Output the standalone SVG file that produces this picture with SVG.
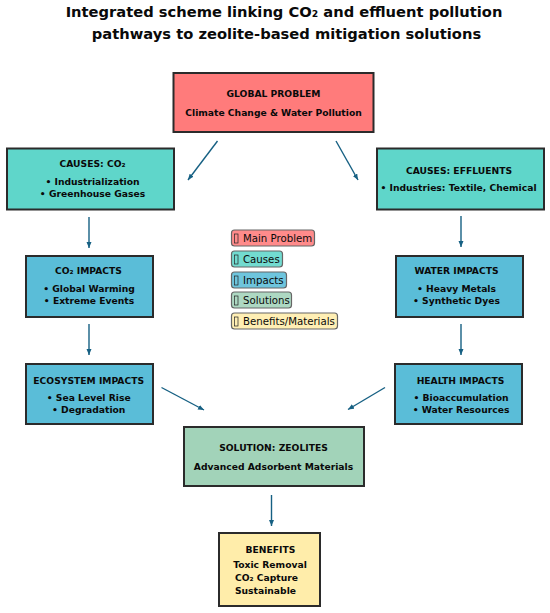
<svg xmlns="http://www.w3.org/2000/svg" width="550" height="613" viewBox="0 0 550 613">
<style>
text{font-family:"DejaVu Sans",sans-serif;fill:#0a0a0a;text-anchor:middle}
.t{font-size:14.700px;font-weight:700}
.b{font-size:9.200px;font-weight:700}
.n{stroke:#2b2b2b;stroke-width:2}
.l{stroke-width:1.2;stroke:#666;fill-opacity:.88}
.lt{font-size:10.200px;text-anchor:start}
.q{fill:none;stroke:#222;stroke-width:.7}
.c{stroke:#166083;stroke-width:1.4;fill:none;marker-end:url(#a)}
.red{fill:#ff7b7b}.teal{fill:#5fd6ca}.blue{fill:#5abdd8}.green{fill:#a2d3b9}.yellow{fill:#ffedaa}
</style>
<defs><marker id="a" markerUnits="userSpaceOnUse" markerWidth="7" markerHeight="6" refX="6" refY="2.500" orient="auto"><path d="M0 0L6 2.500L0 5z" fill="#166083"/></marker></defs>
<rect width="550" height="613" fill="#fff"/>
<text class="t" x="284" y="17">Integrated scheme linking CO₂ and effluent pollution</text>
<text class="t" x="286.500" y="39">pathways to zeolite-based mitigation solutions</text>
<g id="connectors">
<path class="c" d="M217.500 141L188 180"/>
<path class="c" d="M336 141L358 180"/>
<path class="c" d="M89 217V248"/>
<path class="c" d="M461 216V247"/>
<path class="c" d="M89 324V355"/>
<path class="c" d="M461 324V355"/>
<path class="c" d="M161.500 387.500L204 410"/>
<path class="c" d="M385 387.500L348 409.500"/>
<path class="c" d="M271.500 495V526"/>
</g>
<g id="global-problem"><rect class="n red" x="173.500" y="73" width="200" height="59"/><text class="b" x="273.500" y="97">GLOBAL PROBLEM</text><text class="b" x="273.500" y="116">Climate Change &amp; Water Pollution</text></g>
<g id="causes-co2"><rect class="n teal" x="7" y="148.500" width="167" height="61"/><text class="b" x="92.500" y="167">CAUSES: CO₂</text><text class="b" x="92.500" y="184.500">• Industrialization</text><text class="b" x="92.500" y="196.500">• Greenhouse Gases</text></g>
<g id="causes-effluents"><rect class="n teal" x="377" y="148.500" width="167" height="61"/><text class="b" x="459" y="174">CAUSES: EFFLUENTS</text><text class="b" x="458.500" y="191">• Industries: Textile, Chemical</text></g>
<g id="co2-impacts"><rect class="n blue" x="26" y="256" width="127" height="61"/><text class="b" x="88.500" y="273.500">CO₂ IMPACTS</text><text class="b" x="89" y="291.500">• Global Warming</text><text class="b" x="89" y="303.500">• Extreme Events</text></g>
<g id="water-impacts"><rect class="n blue" x="396" y="256" width="127" height="61"/><text class="b" x="456.500" y="273.500">WATER IMPACTS</text><text class="b" x="456.500" y="291.500">• Heavy Metals</text><text class="b" x="456.500" y="303.500">• Synthetic Dyes</text></g>
<g id="ecosystem-impacts"><rect class="n blue" x="26" y="364" width="127" height="60"/><text class="b" x="88.700" y="383.500">ECOSYSTEM IMPACTS</text><text class="b" x="88.700" y="400.500">• Sea Level Rise</text><text class="b" x="88.700" y="412.500">• Degradation</text></g>
<g id="health-impacts"><rect class="n blue" x="395" y="364" width="127" height="60"/><text class="b" x="460.500" y="383.500">HEALTH IMPACTS</text><text class="b" x="461" y="400.500">• Bioaccumulation</text><text class="b" x="461" y="412.500">• Water Resources</text></g>
<g id="solution"><rect class="n green" x="184" y="427" width="180" height="59"/><text class="b" x="273.500" y="450.500">SOLUTION: ZEOLITES</text><text class="b" x="273.500" y="470">Advanced Adsorbent Materials</text></g>
<g id="benefits"><rect class="n yellow" x="219" y="533" width="101" height="73"/><text class="b" x="270.500" y="552.500">BENEFITS</text><text class="b" x="270" y="567.500">Toxic Removal</text><text class="b" x="266.500" y="581">CO₂ Capture</text><text class="b" x="265.500" y="594">Sustainable</text></g>
<g id="legend">
<rect class="l red" x="231.500" y="230" width="83" height="16" rx="3"/><rect class="q" x="234.500" y="234" width="3.500" height="9"/><text class="lt" x="243" y="242">Main Problem</text>
<rect class="l teal" x="231.500" y="251" width="51" height="16" rx="3"/><rect class="q" x="234.500" y="255" width="3.500" height="9"/><text class="lt" x="243" y="263">Causes</text>
<rect class="l blue" x="231.500" y="272" width="55" height="16" rx="3"/><rect class="q" x="234.500" y="276" width="3.500" height="9"/><text class="lt" x="243" y="284">Impacts</text>
<rect class="l green" x="231.500" y="292" width="60" height="16" rx="3"/><rect class="q" x="234.500" y="296" width="3.500" height="9"/><text class="lt" x="243" y="304">Solutions</text>
<rect class="l yellow" x="231.500" y="313" width="106" height="16" rx="3"/><rect class="q" x="234.500" y="317" width="3.500" height="9"/><text class="lt" x="243" y="325">Benefits/Materials</text>
</g>
</svg>
